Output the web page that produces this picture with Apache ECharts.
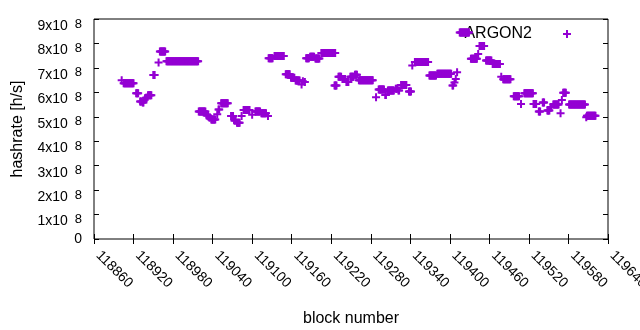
<!DOCTYPE html>
<html>
<head>
<meta charset="utf-8">
<script src="https://cdn.jsdelivr.net/npm/echarts@6/dist/echarts.min.js"></script>
<style>
html, body { margin: 0; padding: 0; background: #fff; }
#chart { width: 640px; height: 330px; }
</style>
</head>
<body>
<div id="chart"></div>
<script>
// hashrate stays constant over runs of blocks: first block, last block, hashrate
const runStart = [
    118902, 118905, 118924, 118930, 118934, 118937, 118939, 118942, 118950, 118958,
    118960, 118970, 119019, 119031, 119035, 119038, 119047, 119049, 119053, 119068,
    119073, 119077, 119084, 119087, 119100, 119105, 119114, 119124, 119125, 119134,
    119151, 119159, 119166, 119175, 119177, 119180, 119182, 119188, 119196, 119205,
    119225, 119231, 119237, 119243, 119249, 119256, 119262, 119288, 119292, 119302,
    119306, 119318, 119322, 119326, 119338, 119343, 119347, 119369, 119381, 119404,
    119407, 119409, 119411, 119415, 119432, 119443, 119445, 119455, 119465, 119478,
    119481, 119497, 119508, 119513, 119527, 119535, 119541, 119548, 119553, 119557,
    119568, 119570, 119572, 119581, 119607, 119608
];
const runEnd = [
    118902, 118920, 118927, 118932, 118935, 118937, 118940, 118947, 118952, 118958,
    118968, 119018, 119029, 119033, 119036, 119044, 119047, 119050, 119063, 119071,
    119075, 119081, 119084, 119096, 119100, 119112, 119121, 119124, 119131, 119148,
    119157, 119164, 119172, 119175, 119177, 119180, 119186, 119194, 119202, 119226,
    119228, 119235, 119241, 119246, 119254, 119259, 119283, 119288, 119300, 119303,
    119315, 119320, 119323, 119334, 119341, 119343, 119367, 119379, 119402, 119405,
    119407, 119409, 119411, 119429, 119441, 119443, 119452, 119463, 119476, 119478,
    119492, 119505, 119508, 119526, 119531, 119537, 119543, 119551, 119554, 119565,
    119568, 119570, 119576, 119605, 119607, 119621
];
const runValue = [
    6.49e8, 6.37e8, 5.96e8, 5.62e8, 5.58e8, 5.70e8, 5.78e8, 5.88e8, 6.71e8, 7.22e8,
    7.67e8, 7.27e8, 5.22e8, 5.05e8, 4.97e8, 4.89e8, 5.10e8, 5.30e8, 5.55e8, 5.03e8,
    4.85e8, 4.76e8, 5.03e8, 5.28e8, 5.08e8, 5.22e8, 5.14e8, 5.03e8, 7.39e8, 7.49e8,
    6.74e8, 6.60e8, 6.48e8, 6.32e8, 6.45e8, 6.42e8, 7.39e8, 7.46e8, 7.38e8, 7.61e8,
    6.28e8, 6.64e8, 6.55e8, 6.42e8, 6.64e8, 6.72e8, 6.49e8, 5.80e8, 6.12e8, 5.89e8,
    6.08e8, 6.15e8, 6.08e8, 6.30e8, 6.03e8, 7.10e8, 7.24e8, 6.69e8, 6.76e8, 6.28e8,
    6.40e8, 6.55e8, 6.82e8, 8.45e8, 7.37e8, 7.57e8, 7.90e8, 7.30e8, 7.16e8, 6.64e8,
    6.54e8, 5.84e8, 5.52e8, 5.96e8, 5.52e8, 5.22e8, 5.58e8, 5.26e8, 5.40e8, 5.50e8,
    5.14e8, 5.69e8, 5.98e8, 5.50e8, 4.98e8, 5.04e8
];

const seriesName = 'ARGON2';
const xMin = 118860, xMax = 119640, xStep = 60;
const yMin = 0, yMax = 9e8, yStep = 1e8;

// one point per block
const points = [];
runStart.forEach((s, i) => {
    for (let b = s; b <= runEnd[i]; b++) points.push([b, runValue[i]]);
});

const plus = 'path://M3,0h2v8h-2z M0,3h8v2h-8z';
const color = '#9400d3';
const font = 'Liberation Sans, Arial, sans-serif';

const tickStyle = { show: true, inside: true, length: 5, lineStyle: { color: '#000' } };

function initEchart(el, option) {
    const myChart = echarts.init(el);
    myChart.setOption(option, true);
    return myChart;
}

const option = {
    animation: false,
    textStyle: { fontFamily: font, color: '#000' },
    grid: {
        left: 94, right: 32, top: 19, bottom: 91,
        outerBoundsMode: 'none', containLabel: false,
        show: true, borderColor: '#000', borderWidth: 1
    },
    legend: {
        data: [seriesName],
        right: 64, top: 21,
        align: 'right',
        icon: plus,
        itemWidth: 8, itemHeight: 8,
        textStyle: { fontSize: 16, color: '#000', fontFamily: font, padding: [0, 26, 0, 0] }
    },
    xAxis: [
        {
            type: 'value', min: xMin, max: xMax, interval: xStep,
            name: 'block number', nameLocation: 'middle', nameGap: 72,
            nameTextStyle: { fontSize: 16, color: '#000' },
            axisLine: { show: false },
            axisTick: tickStyle,
            splitLine: { show: false },
            axisLabel: {
                rotate: -45, fontSize: 14, color: '#000', margin: 10,
                padding: [0, 0, 0, 6],
                formatter: v => String(v)
            }
        },
        {
            type: 'value', position: 'top', min: xMin, max: xMax, interval: xStep,
            axisLine: { show: false }, axisTick: tickStyle,
            splitLine: { show: false }, axisLabel: { show: false }
        }
    ],
    yAxis: [
        {
            type: 'value', min: yMin, max: yMax, interval: yStep,
            name: 'hashrate [h/s]', nameLocation: 'middle', nameGap: 68,
            nameTextStyle: { fontSize: 16, color: '#000' },
            axisLine: { show: false },
            axisTick: tickStyle,
            splitLine: { show: false },
            axisLabel: {
                margin: 12, color: '#000',
                formatter: v => v === 0 ? '{z|0}' : '{m|' + (v / 1e8) + 'x10}{s|8}',
                rich: {
                    z: { fontSize: 14 },
                    m: { fontSize: 14, padding: [14, 0, 0, 0] },
                    s: { fontSize: 13, padding: [10, 0, 0, 7] }
                }
            }
        },
        {
            type: 'value', position: 'right', min: yMin, max: yMax, interval: yStep,
            axisLine: { show: false }, axisTick: tickStyle,
            splitLine: { show: false }, axisLabel: { show: false }
        }
    ],
    series: [
        {
            name: seriesName,
            type: 'scatter',
            z: 5,
            symbol: plus,
            symbolSize: 8,
            itemStyle: { color: color, opacity: 1 },
            data: points
        }
    ]
};

initEchart(document.getElementById('chart'), option);
</script>
</body>
</html>
